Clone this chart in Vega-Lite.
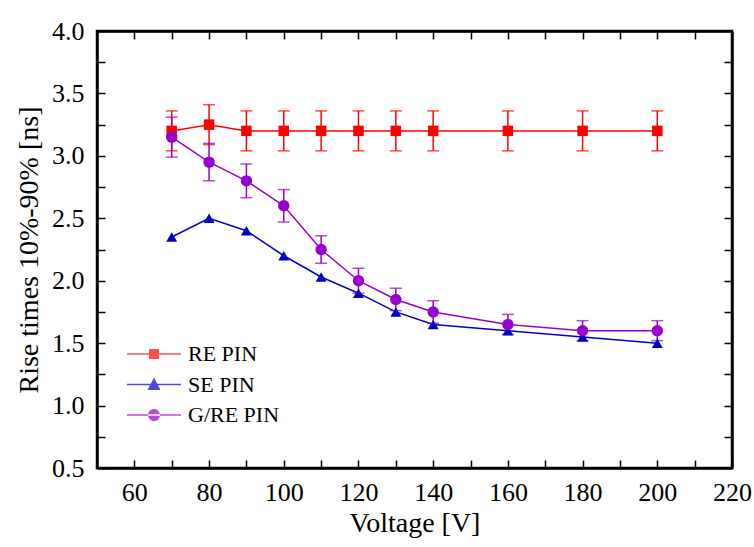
{
  "$schema": "https://vega.github.io/schema/vega-lite/v6.json",
  "width": 635,
  "height": 437,
  "autosize": {"type": "none"},
  "padding": {"left": 97, "top": 31, "right": 22, "bottom": 79},
  "background": "white",
  "config": {
    "font": "Times New Roman",
    "style": {
      "guide-label": {"font": "Times New Roman", "fill": "black"},
      "guide-title": {"font": "Times New Roman", "fill": "black"}
    },
    "view": {"stroke": "black", "strokeWidth": 2.5},
    "axis": {
      "domainColor": "black",
      "domainWidth": 2.5,
      "tickColor": "black",
      "tickWidth": 1.5,
      "tickSize": -8,
      "grid": false,
      "labelFont": "Times New Roman",
      "labelFontSize": 26,
      "labelColor": "black",
      "titleFont": "Times New Roman",
      "titleFontSize": 28,
      "titleFontWeight": "normal",
      "titleColor": "black"
    },
    "legend": {"labelFont": "Times New Roman"}
  },
  "data": {
    "values": [
      {"series": "RE PIN", "v": 70, "t": 3.2, "lo": 3.04, "hi": 3.36},
      {"series": "RE PIN", "v": 80, "t": 3.25, "lo": 3.09, "hi": 3.41},
      {"series": "RE PIN", "v": 90, "t": 3.2, "lo": 3.04, "hi": 3.36},
      {"series": "RE PIN", "v": 100, "t": 3.2, "lo": 3.04, "hi": 3.36},
      {"series": "RE PIN", "v": 110, "t": 3.2, "lo": 3.04, "hi": 3.36},
      {"series": "RE PIN", "v": 120, "t": 3.2, "lo": 3.04, "hi": 3.36},
      {"series": "RE PIN", "v": 130, "t": 3.2, "lo": 3.04, "hi": 3.36},
      {"series": "RE PIN", "v": 140, "t": 3.2, "lo": 3.04, "hi": 3.36},
      {"series": "RE PIN", "v": 160, "t": 3.2, "lo": 3.04, "hi": 3.36},
      {"series": "RE PIN", "v": 180, "t": 3.2, "lo": 3.04, "hi": 3.36},
      {"series": "RE PIN", "v": 200, "t": 3.2, "lo": 3.04, "hi": 3.36},
      {"series": "SE PIN", "v": 70, "t": 2.35},
      {"series": "SE PIN", "v": 80, "t": 2.5},
      {"series": "SE PIN", "v": 90, "t": 2.4},
      {"series": "SE PIN", "v": 100, "t": 2.2},
      {"series": "SE PIN", "v": 110, "t": 2.03},
      {"series": "SE PIN", "v": 120, "t": 1.9},
      {"series": "SE PIN", "v": 130, "t": 1.75},
      {"series": "SE PIN", "v": 140, "t": 1.65},
      {"series": "SE PIN", "v": 160, "t": 1.6},
      {"series": "SE PIN", "v": 180, "t": 1.55},
      {"series": "SE PIN", "v": 200, "t": 1.5},
      {"series": "G/RE PIN", "v": 70, "t": 3.15, "lo": 2.99, "hi": 3.31},
      {"series": "G/RE PIN", "v": 80, "t": 2.95, "lo": 2.8, "hi": 3.1},
      {"series": "G/RE PIN", "v": 90, "t": 2.8, "lo": 2.665, "hi": 2.935},
      {"series": "G/RE PIN", "v": 100, "t": 2.6, "lo": 2.47, "hi": 2.73},
      {"series": "G/RE PIN", "v": 110, "t": 2.25, "lo": 2.14, "hi": 2.36},
      {"series": "G/RE PIN", "v": 120, "t": 2.0, "lo": 1.9, "hi": 2.1},
      {"series": "G/RE PIN", "v": 130, "t": 1.85, "lo": 1.76, "hi": 1.94},
      {"series": "G/RE PIN", "v": 140, "t": 1.75, "lo": 1.66, "hi": 1.84},
      {"series": "G/RE PIN", "v": 160, "t": 1.65, "lo": 1.57, "hi": 1.73},
      {"series": "G/RE PIN", "v": 180, "t": 1.6, "lo": 1.52, "hi": 1.68},
      {"series": "G/RE PIN", "v": 200, "t": 1.6, "lo": 1.52, "hi": 1.68}
    ]
  },
  "layer": [
    {
      "mark": {"type": "point", "filled": true, "opacity": 0, "size": 144},
      "encoding": {
        "x": {
          "field": "v", "type": "quantitative",
          "scale": {"domain": [50, 220], "nice": false, "zero": false},
          "axis": {
            "title": "Voltage [V]",
            "values": [60, 70, 80, 90, 100, 110, 120, 130, 140, 150, 160, 170, 180, 190, 200, 210, 220],
            "labelExpr": "datum.value % 20 == 0 ? datum.label : ''",
            "labelFont": "Times New Roman",
            "titleFont": "Times New Roman",
            "labelFontSize": 26,
            "titleFontSize": 28,
            "labelPadding": 19,
            "titlePadding": 4,
            "labelFlush": false,
            "encode": {
              "labels": {"update": {"font": {"value": "Times New Roman"}}},
              "title": {"update": {"font": {"value": "Times New Roman"}}}
            }
          }
        },
        "y": {
          "field": "t", "type": "quantitative",
          "scale": {"domain": [0.5, 4.0], "nice": false, "zero": false},
          "axis": {
            "title": "Rise times 10%-90% [ns]",
            "values": [0.5, 0.75, 1.0, 1.25, 1.5, 1.75, 2.0, 2.25, 2.5, 2.75, 3.0, 3.25, 3.5, 3.75, 4.0],
            "format": ".1f",
            "labelExpr": "abs(datum.value * 2 - round(datum.value * 2)) < 0.001 ? datum.label : ''",
            "labelFont": "Times New Roman",
            "titleFont": "Times New Roman",
            "labelFontSize": 26,
            "titleFontSize": 28,
            "labelPadding": 21,
            "titlePadding": 8,
            "labelFlush": false,
            "encode": {
              "labels": {"update": {"font": {"value": "Times New Roman"}}},
              "title": {"update": {"font": {"value": "Times New Roman"}}}
            }
          }
        },
        "color": {
          "field": "series", "type": "nominal",
          "scale": {"domain": ["RE PIN", "SE PIN", "G/RE PIN"], "range": ["#ff0000", "#0000c8", "#9900cc"]},
          "legend": {
            "title": null,
            "orient": "none",
            "legendX": 46,
            "legendY": 312,
            "padding": 0,
            "symbolSize": 144,
            "symbolOpacity": 1,
            "symbolStrokeWidth": 0,
            "labelOffset": 23,
            "labelFont": "Times New Roman",
            "labelFontSize": 22,
            "labelColor": "black",
            "rowPadding": 8.5
          }
        },
        "shape": {
          "field": "series", "type": "nominal",
          "scale": {
            "domain": ["RE PIN", "SE PIN", "G/RE PIN"],
            "range": [
              "M-4.5,-0.12H4.5V0.12H-4.5ZM-0.83,-0.83H0.83V0.83H-0.83Z",
              "M-4.5,-0.12H4.5V0.12H-4.5ZM0,-1.15L1.08,0.9H-1.08Z",
              "M-4.5,-0.12H4.5V0.12H-4.5ZM-1,0A1,1 0 1,0 1,0A1,1 0 1,0 -1,0Z"
            ]
          },
          "legend": {
            "title": null,
            "orient": "none",
            "legendX": 46,
            "legendY": 312,
            "padding": 0,
            "symbolSize": 144,
            "symbolOpacity": 1,
            "symbolStrokeWidth": 0,
            "labelOffset": 23,
            "labelFont": "Times New Roman",
            "labelFontSize": 22,
            "labelColor": "black",
            "rowPadding": 8.5
          }
        }
      }
    },
    {
      "mark": {"type": "line", "strokeWidth": 1.5},
      "encoding": {
        "x": {"field": "v", "type": "quantitative", "axis": null},
        "y": {"field": "t", "type": "quantitative", "axis": null},
        "color": {"field": "series", "type": "nominal"},
        "order": {"field": "v", "type": "quantitative"}
      }
    },
    {
      "transform": [{"filter": "isValid(datum.lo)"}],
      "mark": {"type": "rule", "strokeWidth": 1.5},
      "encoding": {
        "x": {"field": "v", "type": "quantitative", "axis": null},
        "y": {"field": "lo", "type": "quantitative", "axis": null},
        "y2": {"field": "hi"},
        "color": {"field": "series", "type": "nominal"}
      }
    },
    {
      "transform": [{"filter": "isValid(datum.lo)"}],
      "mark": {"type": "tick", "orient": "horizontal", "size": 12, "thickness": 1.5},
      "encoding": {
        "x": {"field": "v", "type": "quantitative", "axis": null},
        "y": {"field": "lo", "type": "quantitative", "axis": null},
        "color": {"field": "series", "type": "nominal"}
      }
    },
    {
      "transform": [{"filter": "isValid(datum.hi)"}],
      "mark": {"type": "tick", "orient": "horizontal", "size": 12, "thickness": 1.5},
      "encoding": {
        "x": {"field": "v", "type": "quantitative", "axis": null},
        "y": {"field": "hi", "type": "quantitative", "axis": null},
        "color": {"field": "series", "type": "nominal"}
      }
    },
    {
      "transform": [{"filter": "datum.series === 'RE PIN'"}],
      "mark": {"type": "point", "filled": true, "opacity": 1, "size": 110, "shape": "square"},
      "encoding": {
        "x": {"field": "v", "type": "quantitative", "axis": null},
        "y": {"field": "t", "type": "quantitative", "axis": null},
        "color": {"field": "series", "type": "nominal"}
      }
    },
    {
      "transform": [{"filter": "datum.series === 'SE PIN'"}],
      "mark": {"type": "point", "filled": true, "opacity": 1, "size": 120, "shape": "triangle-up"},
      "encoding": {
        "x": {"field": "v", "type": "quantitative", "axis": null},
        "y": {"field": "t", "type": "quantitative", "axis": null},
        "color": {"field": "series", "type": "nominal"}
      }
    },
    {
      "transform": [{"filter": "datum.series === 'G/RE PIN'"}],
      "mark": {"type": "point", "filled": true, "opacity": 1, "size": 130, "shape": "circle"},
      "encoding": {
        "x": {"field": "v", "type": "quantitative", "axis": null},
        "y": {"field": "t", "type": "quantitative", "axis": null},
        "color": {"field": "series", "type": "nominal"}
      }
    },
    {
      "mark": {"type": "point", "opacity": 0},
      "encoding": {
        "x": {
          "field": "v", "type": "quantitative",
          "axis": {
            "orient": "top", "title": null, "labels": false,
            "values": [60, 70, 80, 90, 100, 110, 120, 130, 140, 150, 160, 170, 180, 190, 200, 210]
          }
        },
        "y": {
          "field": "t", "type": "quantitative",
          "axis": {
            "orient": "right", "title": null, "labels": false,
            "values": [0.75, 1.0, 1.25, 1.5, 1.75, 2.0, 2.25, 2.5, 2.75, 3.0, 3.25, 3.5, 3.75]
          }
        }
      }
    }
  ],
  "resolve": {"axis": {"x": "independent", "y": "independent"}}
}
